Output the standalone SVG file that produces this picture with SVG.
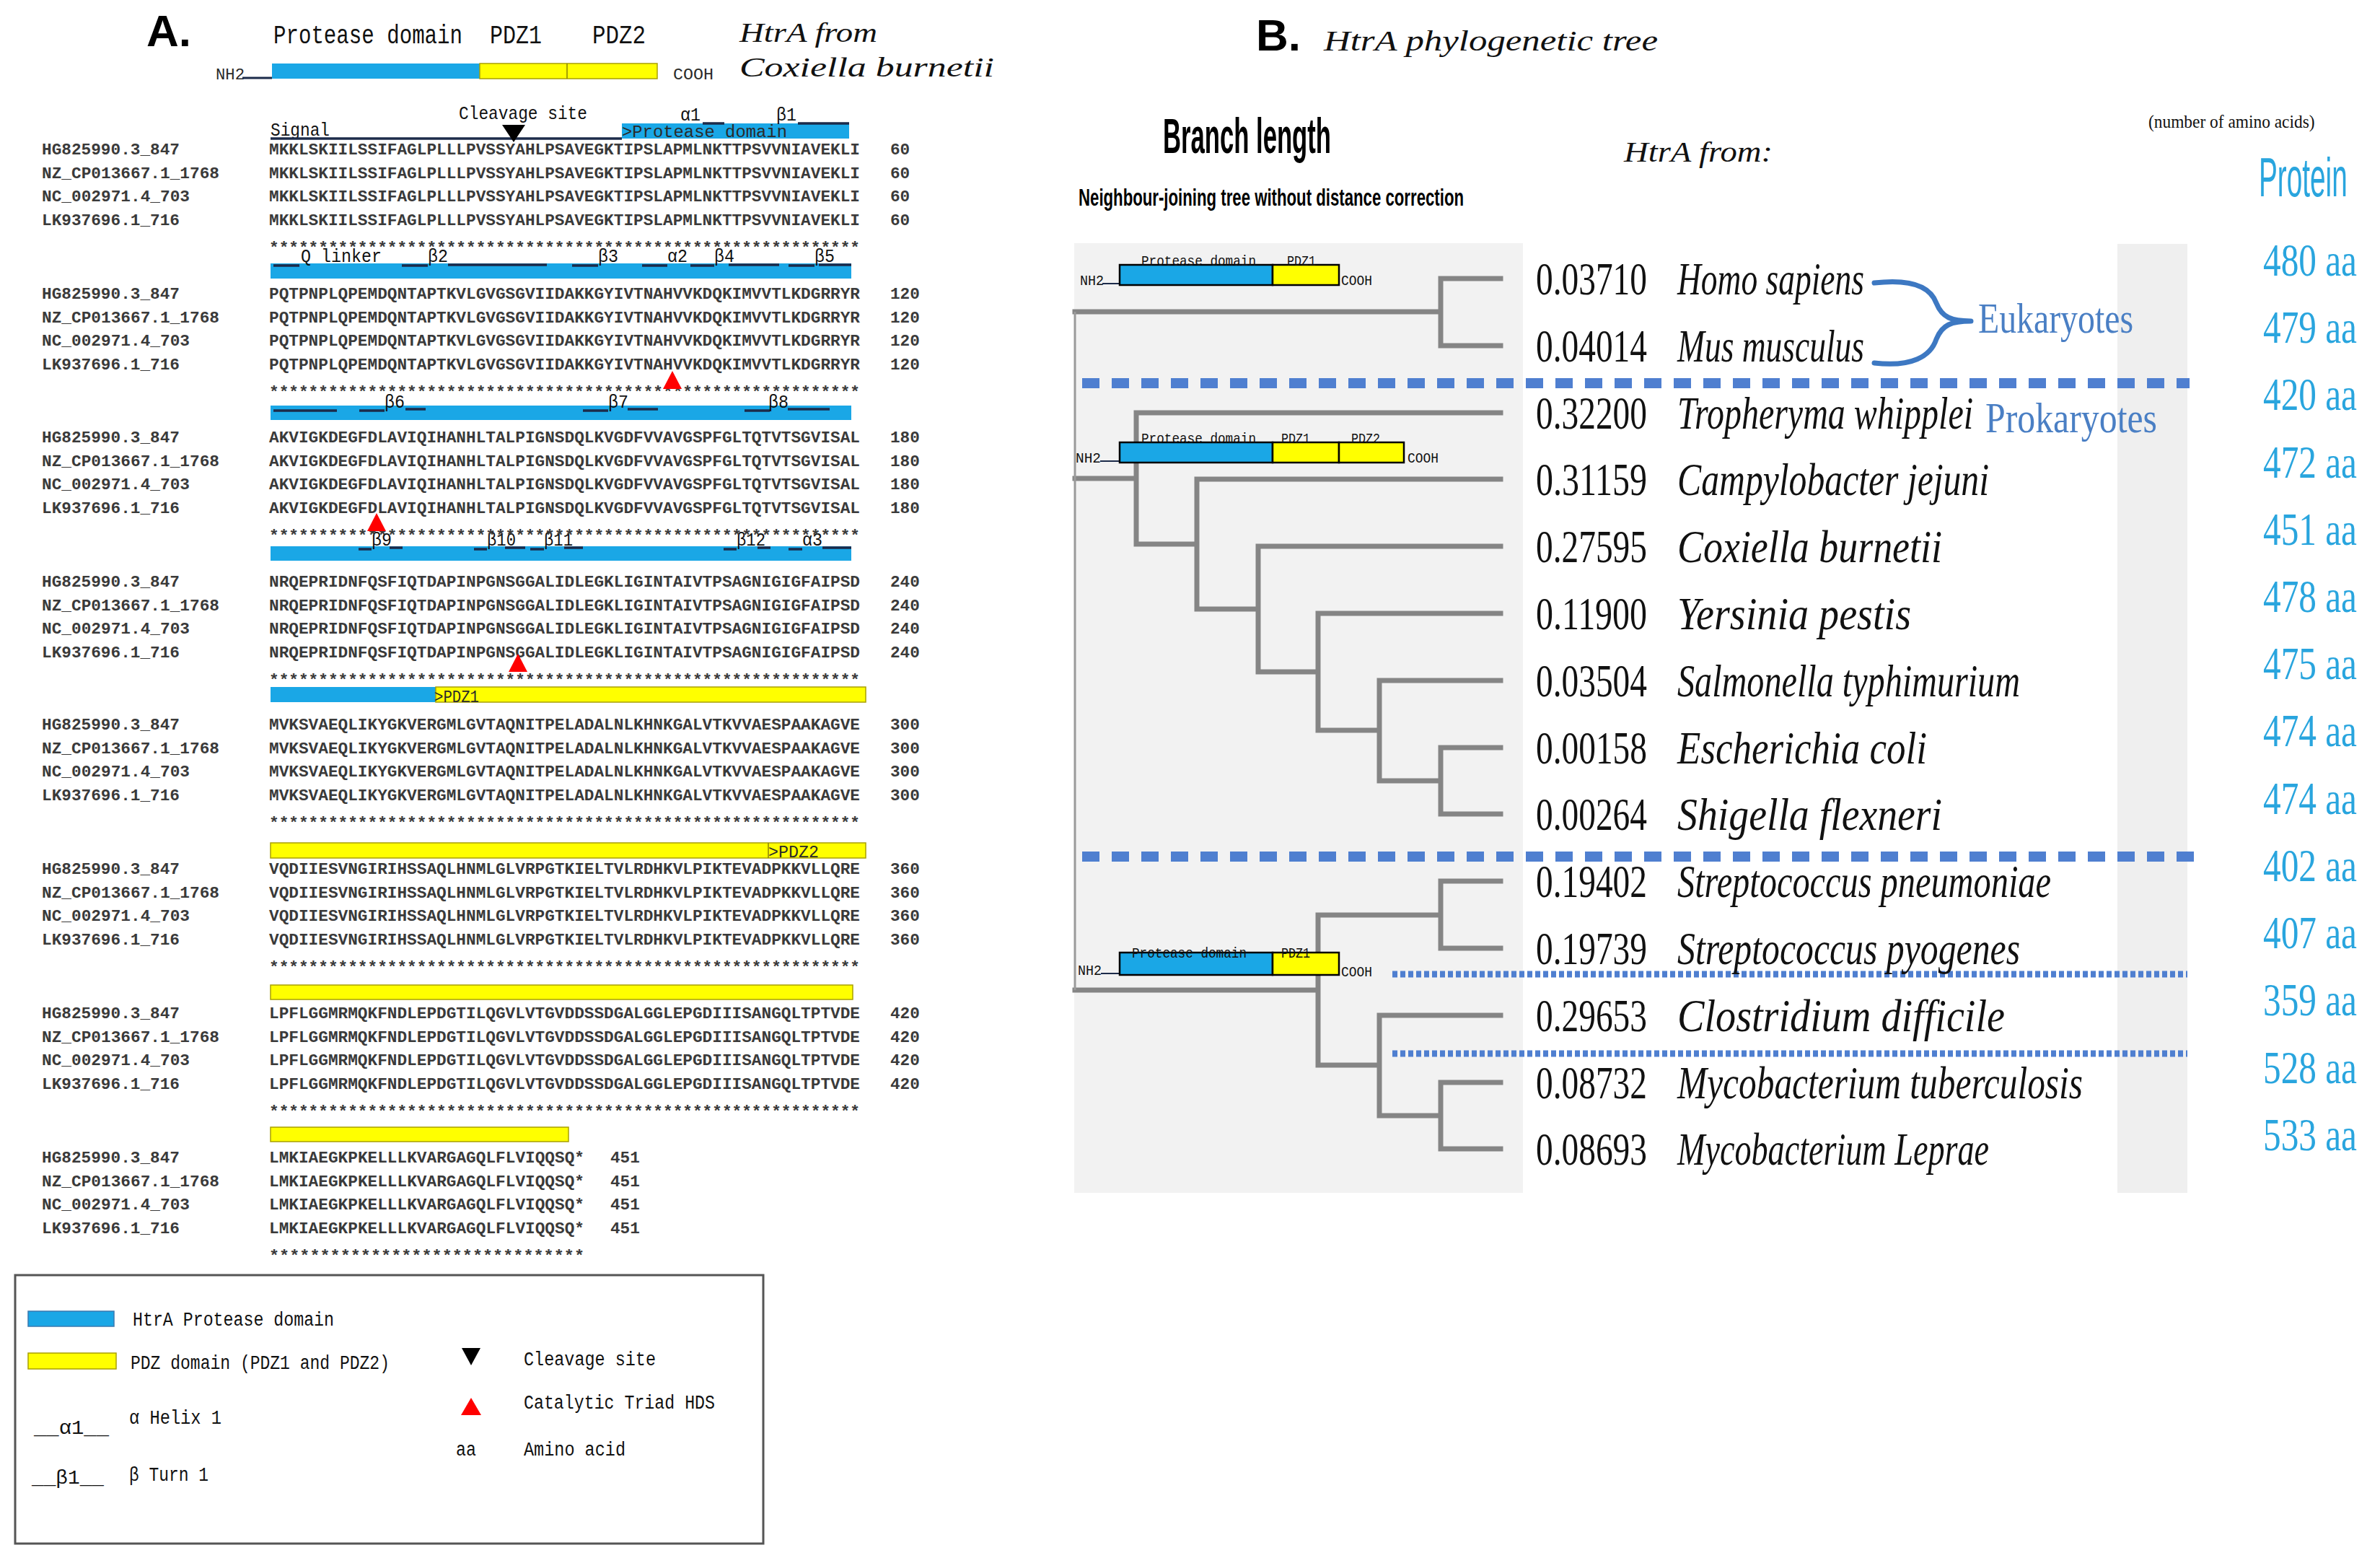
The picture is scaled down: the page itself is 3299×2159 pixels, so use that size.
<svg xmlns="http://www.w3.org/2000/svg" width="3299" height="2159" viewBox="0 0 3299 2159">
<style>
.mono{font-family:"Liberation Mono","DejaVu Sans Mono",monospace;fill:#2a2a2a}
.seq{font-size:22.7px;font-weight:bold;fill:#3a3a3a}
.ann{font-size:25px;fill:#111}
.top{font-size:36px;fill:#111}
.leg{font-size:27px;fill:#111}
.it{font-family:"Liberation Serif","DejaVu Serif",serif;font-style:italic;fill:#111}
.ser{font-family:"Liberation Serif","DejaVu Serif",serif;fill:#111}
.bold{font-family:"Liberation Sans",Arial,sans-serif;font-weight:bold;fill:#000}
.num{font-size:64px}
.sp{font-size:64px}
.prot{font-family:"Liberation Serif",serif;font-size:64px;fill:#29a5de}
.grp{font-family:"Liberation Serif",serif;font-size:60px;fill:#4a7fc4}
.mini{font-family:"Liberation Mono",monospace;font-size:21px;fill:#111}
.blue{fill:#1aa7e6}
.yel{fill:#ffff00}
.seg{stroke:#1c2b4a;stroke-width:3.5;fill:none}
.tree{stroke:#858585;stroke-width:7;fill:none;stroke-linecap:square}
.dash{stroke:#4f7fd0;stroke-width:14;stroke-dasharray:24 17;fill:none}
.dot{stroke:#4f7fd0;stroke-width:9;stroke-dasharray:7 4;fill:none}
</style>
<rect width="3299" height="2159" fill="#fff"/>

<!-- ===================== PANEL A ===================== -->
<g id="panelA-title">
<text class="bold" x="203" y="64" font-size="62">A.</text>
<text class="mono top" x="379" y="60" textLength="262" lengthAdjust="spacingAndGlyphs">Protease domain</text>
<text class="mono top" x="679" y="60" textLength="72" lengthAdjust="spacingAndGlyphs">PDZ1</text>
<text class="mono top" x="821" y="60" textLength="74" lengthAdjust="spacingAndGlyphs">PDZ2</text>
<text class="it" x="1025" y="58" font-size="38" textLength="191" lengthAdjust="spacingAndGlyphs">HtrA from</text>
<text class="it" x="1025" y="106" font-size="38" textLength="353" lengthAdjust="spacingAndGlyphs">Coxiella burnetii</text>
</g>
<g id="panelA-domain">
<text class="mono" x="299" y="110" font-size="22" textLength="40" lengthAdjust="spacingAndGlyphs">NH2</text>
<line x1="336" y1="108" x2="377" y2="108" stroke="#1c2b4a" stroke-width="3"/>
<rect class="blue" x="377" y="88" width="288" height="21"/>
<rect class="yel" x="665" y="88" width="246" height="21" stroke="#a9a000" stroke-width="1.5"/>
<line x1="786" y1="88" x2="786" y2="109" stroke="#8a8300" stroke-width="1.5"/>
<text class="mono" x="933" y="110" font-size="22" textLength="56" lengthAdjust="spacingAndGlyphs">COOH</text>
</g>

<g id="annot1">
<text class="mono ann" x="636" y="165" textLength="178" lengthAdjust="spacingAndGlyphs">Cleavage site</text>
<text class="mono ann" x="375" y="188" textLength="82" lengthAdjust="spacingAndGlyphs">Signal</text>
<line x1="375" y1="192" x2="862" y2="192" stroke="#1c2b4a" stroke-width="3.5"/>
<rect class="blue" x="862" y="171" width="315" height="21"/>
<text class="mono" x="862" y="190" font-size="23" fill="#1c2b4a" textLength="229" lengthAdjust="spacingAndGlyphs">&gt;Protease domain</text>
<text class="mono ann" x="943" y="167" textLength="28" lengthAdjust="spacingAndGlyphs">α1</text>
<line class="seg" x1="974" y1="171" x2="1004" y2="171"/>
<text class="mono ann" x="1076" y="167" textLength="28" lengthAdjust="spacingAndGlyphs">β1</text>
<line class="seg" x1="1106" y1="171" x2="1177" y2="171"/>
<polygon points="696,173 728,173 712,197" fill="#000"/>
</g>
<g id="annot2">
<rect class="blue" x="375" y="365" width="805" height="21"/>
<path class="seg" d="M379,368H415M557,368H593M621,367H758M793,368H829M890,368H925M957,368H990M1010,367H1080M1093,368H1129M1135,367H1180"/>
<text class="mono ann" x="417" y="363" textLength="112" lengthAdjust="spacingAndGlyphs">Q linker</text>
<text class="mono ann" x="593" y="363" textLength="28" lengthAdjust="spacingAndGlyphs">β2</text>
<text class="mono ann" x="829" y="363" textLength="28" lengthAdjust="spacingAndGlyphs">β3</text>
<text class="mono ann" x="925" y="363" textLength="28" lengthAdjust="spacingAndGlyphs">α2</text>
<text class="mono ann" x="990" y="363" textLength="28" lengthAdjust="spacingAndGlyphs">β4</text>
<text class="mono ann" x="1129" y="363" textLength="28" lengthAdjust="spacingAndGlyphs">β5</text>
</g>
<g id="annot3">
<rect class="blue" x="375" y="562" width="805" height="20"/>
<path class="seg" d="M379,569H467M498,569H533M562,567H590M808,569H843M870,567H912M1032,569H1067M1092,567H1150"/>
<text class="mono ann" x="533" y="565" textLength="28" lengthAdjust="spacingAndGlyphs">β6</text>
<text class="mono ann" x="843" y="565" textLength="28" lengthAdjust="spacingAndGlyphs">β7</text>
<text class="mono ann" x="1065" y="565" textLength="28" lengthAdjust="spacingAndGlyphs">β8</text>
</g>
<g id="annot4">
<rect class="blue" x="375" y="757" width="805" height="20"/>
<path class="seg" d="M497,761H515M540,759H558M657,761H675M700,759H728M735,761H754M782,759H808M1003,761H1021M1050,759H1068M1093,761H1112M1140,759H1180"/>
<text class="mono ann" x="515" y="756" textLength="28" lengthAdjust="spacingAndGlyphs">β9</text>
<text class="mono ann" x="675" y="756" textLength="40" lengthAdjust="spacingAndGlyphs">β10</text>
<text class="mono ann" x="754" y="756" textLength="40" lengthAdjust="spacingAndGlyphs">β11</text>
<text class="mono ann" x="1021" y="756" textLength="40" lengthAdjust="spacingAndGlyphs">β12</text>
<text class="mono ann" x="1112" y="756" textLength="28" lengthAdjust="spacingAndGlyphs">α3</text>
</g>
<g id="annot5">
<rect class="blue" x="375" y="952" width="229" height="21"/>
<rect class="yel" x="604" y="952" width="596" height="21" stroke="#a9a000" stroke-width="1.5"/>
<text class="mono" x="602" y="973" font-size="24" fill="#1c2b4a" textLength="62" lengthAdjust="spacingAndGlyphs">&gt;PDZ1</text>
</g>
<g id="annot6">
<rect class="yel" x="375" y="1168" width="825" height="21" stroke="#a9a000" stroke-width="1.5"/>
<line x1="1065" y1="1168" x2="1065" y2="1189" stroke="#8a8300" stroke-width="1.5"/>
<text class="mono" x="1065" y="1188" font-size="24" fill="#1c2b4a" textLength="70" lengthAdjust="spacingAndGlyphs">&gt;PDZ2</text>
</g>
<g id="annot7"><rect class="yel" x="375" y="1365" width="807" height="20" stroke="#a9a000" stroke-width="1.5"/></g>
<g id="annot8"><rect class="yel" x="375" y="1562" width="413" height="20" stroke="#a9a000" stroke-width="1.5"/></g>

<g id="block1" class="mono seq" transform="translate(0,206)">
<text x="58" y="8" textLength="191" lengthAdjust="spacingAndGlyphs">HG825990.3_847</text>
<text x="58" y="41" textLength="246" lengthAdjust="spacingAndGlyphs">NZ_CP013667.1_1768</text>
<text x="58" y="73" textLength="205" lengthAdjust="spacingAndGlyphs">NC_002971.4_703</text>
<text x="58" y="106" textLength="191" lengthAdjust="spacingAndGlyphs">LK937696.1_716</text>
<text x="373" y="8" textLength="819" lengthAdjust="spacingAndGlyphs">MKKLSKIILSSIFAGLPLLLPVSSYAHLPSAVEGKTIPSLAPMLNKTTPSVVNIAVEKLI</text>
<text x="373" y="41" textLength="819" lengthAdjust="spacingAndGlyphs">MKKLSKIILSSIFAGLPLLLPVSSYAHLPSAVEGKTIPSLAPMLNKTTPSVVNIAVEKLI</text>
<text x="373" y="73" textLength="819" lengthAdjust="spacingAndGlyphs">MKKLSKIILSSIFAGLPLLLPVSSYAHLPSAVEGKTIPSLAPMLNKTTPSVVNIAVEKLI</text>
<text x="373" y="106" textLength="819" lengthAdjust="spacingAndGlyphs">MKKLSKIILSSIFAGLPLLLPVSSYAHLPSAVEGKTIPSLAPMLNKTTPSVVNIAVEKLI</text>
<text x="1234" y="8">60</text><text x="1234" y="41">60</text><text x="1234" y="73">60</text><text x="1234" y="106">60</text>
<text x="373" y="144" textLength="819" lengthAdjust="spacingAndGlyphs">************************************************************</text>
</g>
<g id="block2" class="mono seq" transform="translate(0,406)">
<text x="58" y="8" textLength="191" lengthAdjust="spacingAndGlyphs">HG825990.3_847</text>
<text x="58" y="41" textLength="246" lengthAdjust="spacingAndGlyphs">NZ_CP013667.1_1768</text>
<text x="58" y="73" textLength="205" lengthAdjust="spacingAndGlyphs">NC_002971.4_703</text>
<text x="58" y="106" textLength="191" lengthAdjust="spacingAndGlyphs">LK937696.1_716</text>
<text x="373" y="8" textLength="819" lengthAdjust="spacingAndGlyphs">PQTPNPLQPEMDQNTAPTKVLGVGSGVIIDAKKGYIVTNAHVVKDQKIMVVTLKDGRRYR</text>
<text x="373" y="41" textLength="819" lengthAdjust="spacingAndGlyphs">PQTPNPLQPEMDQNTAPTKVLGVGSGVIIDAKKGYIVTNAHVVKDQKIMVVTLKDGRRYR</text>
<text x="373" y="73" textLength="819" lengthAdjust="spacingAndGlyphs">PQTPNPLQPEMDQNTAPTKVLGVGSGVIIDAKKGYIVTNAHVVKDQKIMVVTLKDGRRYR</text>
<text x="373" y="106" textLength="819" lengthAdjust="spacingAndGlyphs">PQTPNPLQPEMDQNTAPTKVLGVGSGVIIDAKKGYIVTNAHVVKDQKIMVVTLKDGRRYR</text>
<text x="1234" y="8">120</text><text x="1234" y="41">120</text><text x="1234" y="73">120</text><text x="1234" y="106">120</text>
<text x="373" y="144" textLength="819" lengthAdjust="spacingAndGlyphs">************************************************************</text>
</g>
<g id="block3" class="mono seq" transform="translate(0,605)">
<text x="58" y="8" textLength="191" lengthAdjust="spacingAndGlyphs">HG825990.3_847</text>
<text x="58" y="41" textLength="246" lengthAdjust="spacingAndGlyphs">NZ_CP013667.1_1768</text>
<text x="58" y="73" textLength="205" lengthAdjust="spacingAndGlyphs">NC_002971.4_703</text>
<text x="58" y="106" textLength="191" lengthAdjust="spacingAndGlyphs">LK937696.1_716</text>
<text x="373" y="8" textLength="819" lengthAdjust="spacingAndGlyphs">AKVIGKDEGFDLAVIQIHANHLTALPIGNSDQLKVGDFVVAVGSPFGLTQTVTSGVISAL</text>
<text x="373" y="41" textLength="819" lengthAdjust="spacingAndGlyphs">AKVIGKDEGFDLAVIQIHANHLTALPIGNSDQLKVGDFVVAVGSPFGLTQTVTSGVISAL</text>
<text x="373" y="73" textLength="819" lengthAdjust="spacingAndGlyphs">AKVIGKDEGFDLAVIQIHANHLTALPIGNSDQLKVGDFVVAVGSPFGLTQTVTSGVISAL</text>
<text x="373" y="106" textLength="819" lengthAdjust="spacingAndGlyphs">AKVIGKDEGFDLAVIQIHANHLTALPIGNSDQLKVGDFVVAVGSPFGLTQTVTSGVISAL</text>
<text x="1234" y="8">180</text><text x="1234" y="41">180</text><text x="1234" y="73">180</text><text x="1234" y="106">180</text>
<text x="373" y="144" textLength="819" lengthAdjust="spacingAndGlyphs">************************************************************</text>
</g>
<g id="block4" class="mono seq" transform="translate(0,805)">
<text x="58" y="8" textLength="191" lengthAdjust="spacingAndGlyphs">HG825990.3_847</text>
<text x="58" y="41" textLength="246" lengthAdjust="spacingAndGlyphs">NZ_CP013667.1_1768</text>
<text x="58" y="73" textLength="205" lengthAdjust="spacingAndGlyphs">NC_002971.4_703</text>
<text x="58" y="106" textLength="191" lengthAdjust="spacingAndGlyphs">LK937696.1_716</text>
<text x="373" y="8" textLength="819" lengthAdjust="spacingAndGlyphs">NRQEPRIDNFQSFIQTDAPINPGNSGGALIDLEGKLIGINTAIVTPSAGNIGIGFAIPSD</text>
<text x="373" y="41" textLength="819" lengthAdjust="spacingAndGlyphs">NRQEPRIDNFQSFIQTDAPINPGNSGGALIDLEGKLIGINTAIVTPSAGNIGIGFAIPSD</text>
<text x="373" y="73" textLength="819" lengthAdjust="spacingAndGlyphs">NRQEPRIDNFQSFIQTDAPINPGNSGGALIDLEGKLIGINTAIVTPSAGNIGIGFAIPSD</text>
<text x="373" y="106" textLength="819" lengthAdjust="spacingAndGlyphs">NRQEPRIDNFQSFIQTDAPINPGNSGGALIDLEGKLIGINTAIVTPSAGNIGIGFAIPSD</text>
<text x="1234" y="8">240</text><text x="1234" y="41">240</text><text x="1234" y="73">240</text><text x="1234" y="106">240</text>
<text x="373" y="144" textLength="819" lengthAdjust="spacingAndGlyphs">************************************************************</text>
</g>
<g id="block5" class="mono seq" transform="translate(0,1003)">
<text x="58" y="8" textLength="191" lengthAdjust="spacingAndGlyphs">HG825990.3_847</text>
<text x="58" y="41" textLength="246" lengthAdjust="spacingAndGlyphs">NZ_CP013667.1_1768</text>
<text x="58" y="73" textLength="205" lengthAdjust="spacingAndGlyphs">NC_002971.4_703</text>
<text x="58" y="106" textLength="191" lengthAdjust="spacingAndGlyphs">LK937696.1_716</text>
<text x="373" y="8" textLength="819" lengthAdjust="spacingAndGlyphs">MVKSVAEQLIKYGKVERGMLGVTAQNITPELADALNLKHNKGALVTKVVAESPAAKAGVE</text>
<text x="373" y="41" textLength="819" lengthAdjust="spacingAndGlyphs">MVKSVAEQLIKYGKVERGMLGVTAQNITPELADALNLKHNKGALVTKVVAESPAAKAGVE</text>
<text x="373" y="73" textLength="819" lengthAdjust="spacingAndGlyphs">MVKSVAEQLIKYGKVERGMLGVTAQNITPELADALNLKHNKGALVTKVVAESPAAKAGVE</text>
<text x="373" y="106" textLength="819" lengthAdjust="spacingAndGlyphs">MVKSVAEQLIKYGKVERGMLGVTAQNITPELADALNLKHNKGALVTKVVAESPAAKAGVE</text>
<text x="1234" y="8">300</text><text x="1234" y="41">300</text><text x="1234" y="73">300</text><text x="1234" y="106">300</text>
<text x="373" y="144" textLength="819" lengthAdjust="spacingAndGlyphs">************************************************************</text>
</g>
<g id="block6" class="mono seq" transform="translate(0,1203)">
<text x="58" y="8" textLength="191" lengthAdjust="spacingAndGlyphs">HG825990.3_847</text>
<text x="58" y="41" textLength="246" lengthAdjust="spacingAndGlyphs">NZ_CP013667.1_1768</text>
<text x="58" y="73" textLength="205" lengthAdjust="spacingAndGlyphs">NC_002971.4_703</text>
<text x="58" y="106" textLength="191" lengthAdjust="spacingAndGlyphs">LK937696.1_716</text>
<text x="373" y="8" textLength="819" lengthAdjust="spacingAndGlyphs">VQDIIESVNGIRIHSSAQLHNMLGLVRPGTKIELTVLRDHKVLPIKTEVADPKKVLLQRE</text>
<text x="373" y="41" textLength="819" lengthAdjust="spacingAndGlyphs">VQDIIESVNGIRIHSSAQLHNMLGLVRPGTKIELTVLRDHKVLPIKTEVADPKKVLLQRE</text>
<text x="373" y="73" textLength="819" lengthAdjust="spacingAndGlyphs">VQDIIESVNGIRIHSSAQLHNMLGLVRPGTKIELTVLRDHKVLPIKTEVADPKKVLLQRE</text>
<text x="373" y="106" textLength="819" lengthAdjust="spacingAndGlyphs">VQDIIESVNGIRIHSSAQLHNMLGLVRPGTKIELTVLRDHKVLPIKTEVADPKKVLLQRE</text>
<text x="1234" y="8">360</text><text x="1234" y="41">360</text><text x="1234" y="73">360</text><text x="1234" y="106">360</text>
<text x="373" y="144" textLength="819" lengthAdjust="spacingAndGlyphs">************************************************************</text>
</g>
<g id="block7" class="mono seq" transform="translate(0,1403)">
<text x="58" y="8" textLength="191" lengthAdjust="spacingAndGlyphs">HG825990.3_847</text>
<text x="58" y="41" textLength="246" lengthAdjust="spacingAndGlyphs">NZ_CP013667.1_1768</text>
<text x="58" y="73" textLength="205" lengthAdjust="spacingAndGlyphs">NC_002971.4_703</text>
<text x="58" y="106" textLength="191" lengthAdjust="spacingAndGlyphs">LK937696.1_716</text>
<text x="373" y="8" textLength="819" lengthAdjust="spacingAndGlyphs">LPFLGGMRMQKFNDLEPDGTILQGVLVTGVDDSSDGALGGLEPGDIIISANGQLTPTVDE</text>
<text x="373" y="41" textLength="819" lengthAdjust="spacingAndGlyphs">LPFLGGMRMQKFNDLEPDGTILQGVLVTGVDDSSDGALGGLEPGDIIISANGQLTPTVDE</text>
<text x="373" y="73" textLength="819" lengthAdjust="spacingAndGlyphs">LPFLGGMRMQKFNDLEPDGTILQGVLVTGVDDSSDGALGGLEPGDIIISANGQLTPTVDE</text>
<text x="373" y="106" textLength="819" lengthAdjust="spacingAndGlyphs">LPFLGGMRMQKFNDLEPDGTILQGVLVTGVDDSSDGALGGLEPGDIIISANGQLTPTVDE</text>
<text x="1234" y="8">420</text><text x="1234" y="41">420</text><text x="1234" y="73">420</text><text x="1234" y="106">420</text>
<text x="373" y="144" textLength="819" lengthAdjust="spacingAndGlyphs">************************************************************</text>
</g>
<g id="block8" class="mono seq" transform="translate(0,1603)">
<text x="58" y="8" textLength="191" lengthAdjust="spacingAndGlyphs">HG825990.3_847</text>
<text x="58" y="41" textLength="246" lengthAdjust="spacingAndGlyphs">NZ_CP013667.1_1768</text>
<text x="58" y="73" textLength="205" lengthAdjust="spacingAndGlyphs">NC_002971.4_703</text>
<text x="58" y="106" textLength="191" lengthAdjust="spacingAndGlyphs">LK937696.1_716</text>
<text x="373" y="8" textLength="437" lengthAdjust="spacingAndGlyphs">LMKIAEGKPKELLLKVARGAGQLFLVIQQSQ*</text>
<text x="373" y="41" textLength="437" lengthAdjust="spacingAndGlyphs">LMKIAEGKPKELLLKVARGAGQLFLVIQQSQ*</text>
<text x="373" y="73" textLength="437" lengthAdjust="spacingAndGlyphs">LMKIAEGKPKELLLKVARGAGQLFLVIQQSQ*</text>
<text x="373" y="106" textLength="437" lengthAdjust="spacingAndGlyphs">LMKIAEGKPKELLLKVARGAGQLFLVIQQSQ*</text>
<text x="846" y="8">451</text><text x="846" y="41">451</text><text x="846" y="73">451</text><text x="846" y="106">451</text>
<text x="373" y="144" textLength="437" lengthAdjust="spacingAndGlyphs">*******************************</text>
</g>

<g id="catalytic-triad" fill="#ff0000">
<polygon points="932,514 945,539 919,539"/>
<polygon points="522,711 535,736 509,736"/>
<polygon points="718,906 731,931 705,931"/>
</g>

<g id="legend">
<rect x="21" y="1767" width="1037" height="372" fill="#fff" stroke="#555" stroke-width="3"/>
<rect class="blue" x="39" y="1817" width="119" height="21" stroke="#3a7ab0" stroke-width="1.5"/>
<text class="mono leg" x="184" y="1837" textLength="279" lengthAdjust="spacingAndGlyphs">HtrA Protease domain</text>
<rect class="yel" x="39" y="1875" width="122" height="22" stroke="#a9a000" stroke-width="1.5"/>
<text class="mono leg" x="181" y="1897" textLength="359" lengthAdjust="spacingAndGlyphs">PDZ domain (PDZ1 and PDZ2)</text>
<text class="mono leg" x="47" y="1987" textLength="104" lengthAdjust="spacingAndGlyphs">__α1__</text>
<text class="mono leg" x="179" y="1973" textLength="128" lengthAdjust="spacingAndGlyphs">α Helix 1</text>
<text class="mono leg" x="44" y="2056" textLength="100" lengthAdjust="spacingAndGlyphs">__β1__</text>
<text class="mono leg" x="179" y="2052" textLength="110" lengthAdjust="spacingAndGlyphs">β Turn 1</text>
<polygon points="640,1868 666,1868 653,1892" fill="#000"/>
<text class="mono leg" x="726" y="1892" textLength="183" lengthAdjust="spacingAndGlyphs">Cleavage site</text>
<polygon points="653,1937 667,1961 639,1961" fill="#ff0000"/>
<text class="mono leg" x="726" y="1952" textLength="265" lengthAdjust="spacingAndGlyphs">Catalytic Triad HDS</text>
<text class="mono leg" x="632" y="2017" textLength="28" lengthAdjust="spacingAndGlyphs">aa</text>
<text class="mono leg" x="726" y="2017" textLength="141" lengthAdjust="spacingAndGlyphs">Amino acid</text>
</g>

<!-- ===================== PANEL B ===================== -->
<g id="panelB-title">
<text class="bold" x="1741" y="70" font-size="62">B.</text>
<text class="it" x="1835" y="70" font-size="40" textLength="463" lengthAdjust="spacingAndGlyphs">HtrA phylogenetic tree</text>
<text class="bold" x="1612" y="212" font-size="68" textLength="233" lengthAdjust="spacingAndGlyphs">Branch length</text>
<text class="bold" x="1495" y="285" font-size="33" textLength="534" lengthAdjust="spacingAndGlyphs">Neighbour-joining tree without distance correction</text>
<text class="it" x="2251" y="224" font-size="40" textLength="206" lengthAdjust="spacingAndGlyphs">HtrA from:</text>
<text class="ser" transform="translate(2978,177) scale(0.9,1)" font-size="26">(number of amino acids)</text>
<text transform="translate(3131,272) scale(0.51,1)" font-family="Liberation Sans,Arial,sans-serif" font-size="76" fill="#29a5de">Protein</text>
</g>

<rect x="1489" y="337" width="622" height="1316" fill="#f2f2f2"/>
<rect x="2935" y="338" width="97" height="1315" fill="#efefef"/>

<g id="connectors">
<path class="tree" d="M1490,432H1997M1997,386V479M1997,386H2080M1997,479H2080"/>
<path class="tree" d="M1490,663H1575M1575,572V754M1575,572H2080M1575,754H1659M1659,664V844M1659,664H2080M1659,844H1744M1744,757V931M1744,757H2080M1744,931H1827M1827,850V1012M1827,850H2080M1827,1012H1912M1912,943V1082M1912,943H2080M1912,1082H1997M1997,1036V1128M1997,1036H2080M1997,1128H2080"/>
<path class="tree" d="M1490,1372H1827M1827,1268V1476M1827,1268H1997M1997,1221V1314M1997,1221H2080M1997,1314H2080M1827,1476H1912M1912,1407V1546M1912,1407H2080M1912,1546H1997M1997,1500V1592M1997,1500H2080M1997,1592H2080"/>
<path d="M1490,432V1372" stroke="#9a9a9a" stroke-width="3" fill="none"/>
</g>

<g id="domain-euk">
<text class="mini" x="1497" y="395" textLength="33" lengthAdjust="spacingAndGlyphs">NH2</text>
<line x1="1528" y1="393" x2="1552" y2="393" stroke="#1c2b4a" stroke-width="2"/>
<rect class="blue" x="1552" y="367" width="212" height="28" stroke="#000" stroke-width="2.5"/>
<rect class="yel" x="1764" y="367" width="92" height="28" stroke="#000" stroke-width="2.5"/>
<text class="mini" x="1859" y="395" textLength="43" lengthAdjust="spacingAndGlyphs">COOH</text>
<text class="mini" x="1582" y="368" textLength="159" lengthAdjust="spacingAndGlyphs">Protease domain</text>
<text class="mini" x="1784" y="368" textLength="40" lengthAdjust="spacingAndGlyphs">PDZ1</text>
</g>
<g id="domain-prok">
<text class="mini" x="1491" y="641" textLength="35" lengthAdjust="spacingAndGlyphs">NH2</text>
<line x1="1525" y1="639" x2="1552" y2="639" stroke="#1c2b4a" stroke-width="2"/>
<rect class="blue" x="1552" y="613" width="212" height="28" stroke="#000" stroke-width="2.5"/>
<rect class="yel" x="1764" y="613" width="92" height="28" stroke="#000" stroke-width="2.5"/>
<rect class="yel" x="1856" y="613" width="90" height="28" stroke="#000" stroke-width="2.5"/>
<text class="mini" x="1951" y="641" textLength="43" lengthAdjust="spacingAndGlyphs">COOH</text>
<text class="mini" x="1582" y="614" textLength="159" lengthAdjust="spacingAndGlyphs">Protease domain</text>
<text class="mini" x="1776" y="614" textLength="40" lengthAdjust="spacingAndGlyphs">PDZ1</text>
<text class="mini" x="1873" y="614" textLength="40" lengthAdjust="spacingAndGlyphs">PDZ2</text>
</g>
<g id="domain-gram">
<text class="mini" x="1494" y="1351" textLength="33" lengthAdjust="spacingAndGlyphs">NH2</text>
<line x1="1526" y1="1349" x2="1552" y2="1349" stroke="#1c2b4a" stroke-width="2"/>
<rect class="blue" x="1552" y="1320" width="212" height="31" stroke="#000" stroke-width="2.5"/>
<rect class="yel" x="1764" y="1320" width="92" height="31" stroke="#000" stroke-width="2.5"/>
<text class="mini" x="1859" y="1353" textLength="43" lengthAdjust="spacingAndGlyphs">COOH</text>
<text class="mini" x="1569" y="1327" textLength="159" lengthAdjust="spacingAndGlyphs">Protease domain</text>
<text class="mini" x="1776" y="1327" textLength="40" lengthAdjust="spacingAndGlyphs">PDZ1</text>
</g>

<g id="separators">
<line class="dash" x1="1500" y1="531" x2="3035" y2="531"/>
<line class="dash" x1="1500" y1="1187" x2="3045" y2="1187"/>
<line class="dot" x1="1930" y1="1350" x2="3032" y2="1350"/>
<line class="dot" x1="1930" y1="1460" x2="3032" y2="1460"/>
</g>

<g id="leaf-homo"><text class="ser num" x="2129" y="408" textLength="154" lengthAdjust="spacingAndGlyphs">0.03710</text><text class="it sp" x="2325" y="408" textLength="259" lengthAdjust="spacingAndGlyphs">Homo sapiens</text><text class="prot" transform="translate(3137,382) scale(0.77,1)">480 aa</text></g>
<g id="leaf-mus"><text class="ser num" x="2129" y="501" textLength="154" lengthAdjust="spacingAndGlyphs">0.04014</text><text class="it sp" x="2325" y="501" textLength="259" lengthAdjust="spacingAndGlyphs">Mus musculus</text><text class="prot" transform="translate(3137,475) scale(0.77,1)">479 aa</text></g>
<g id="leaf-trop"><text class="ser num" x="2129" y="594" textLength="154" lengthAdjust="spacingAndGlyphs">0.32200</text><text class="it sp" x="2325" y="594" textLength="410" lengthAdjust="spacingAndGlyphs">Tropheryma whipplei</text><text class="prot" transform="translate(3137,568) scale(0.77,1)">420 aa</text></g>
<g id="leaf-camp"><text class="ser num" x="2129" y="686" textLength="154" lengthAdjust="spacingAndGlyphs">0.31159</text><text class="it sp" x="2325" y="686" textLength="432" lengthAdjust="spacingAndGlyphs">Campylobacter jejuni</text><text class="prot" transform="translate(3137,662) scale(0.77,1)">472 aa</text></g>
<g id="leaf-cox"><text class="ser num" x="2129" y="779" textLength="154" lengthAdjust="spacingAndGlyphs">0.27595</text><text class="it sp" x="2325" y="779" textLength="367" lengthAdjust="spacingAndGlyphs">Coxiella burnetii</text><text class="prot" transform="translate(3137,755) scale(0.77,1)">451 aa</text></g>
<g id="leaf-yers"><text class="ser num" x="2129" y="872" textLength="154" lengthAdjust="spacingAndGlyphs">0.11900</text><text class="it sp" x="2325" y="872" textLength="324" lengthAdjust="spacingAndGlyphs">Yersinia pestis</text><text class="prot" transform="translate(3137,848) scale(0.77,1)">478 aa</text></g>
<g id="leaf-salm"><text class="ser num" x="2129" y="965" textLength="154" lengthAdjust="spacingAndGlyphs">0.03504</text><text class="it sp" x="2325" y="965" textLength="475" lengthAdjust="spacingAndGlyphs">Salmonella typhimurium</text><text class="prot" transform="translate(3137,941) scale(0.77,1)">475 aa</text></g>
<g id="leaf-ecoli"><text class="ser num" x="2129" y="1058" textLength="154" lengthAdjust="spacingAndGlyphs">0.00158</text><text class="it sp" x="2325" y="1058" textLength="346" lengthAdjust="spacingAndGlyphs">Escherichia coli</text><text class="prot" transform="translate(3137,1034) scale(0.77,1)">474 aa</text></g>
<g id="leaf-shig"><text class="ser num" x="2129" y="1150" textLength="154" lengthAdjust="spacingAndGlyphs">0.00264</text><text class="it sp" x="2325" y="1150" textLength="367" lengthAdjust="spacingAndGlyphs">Shigella flexneri</text><text class="prot" transform="translate(3137,1128) scale(0.77,1)">474 aa</text></g>
<g id="leaf-spn"><text class="ser num" x="2129" y="1243" textLength="154" lengthAdjust="spacingAndGlyphs">0.19402</text><text class="it sp" x="2325" y="1243" textLength="518" lengthAdjust="spacingAndGlyphs">Streptococcus pneumoniae</text><text class="prot" transform="translate(3137,1221) scale(0.77,1)">402 aa</text></g>
<g id="leaf-spy"><text class="ser num" x="2129" y="1336" textLength="154" lengthAdjust="spacingAndGlyphs">0.19739</text><text class="it sp" x="2325" y="1336" textLength="475" lengthAdjust="spacingAndGlyphs">Streptococcus pyogenes</text><text class="prot" transform="translate(3137,1314) scale(0.77,1)">407 aa</text></g>
<g id="leaf-clos"><text class="ser num" x="2129" y="1429" textLength="154" lengthAdjust="spacingAndGlyphs">0.29653</text><text class="it sp" x="2325" y="1429" textLength="454" lengthAdjust="spacingAndGlyphs">Clostridium difficile</text><text class="prot" transform="translate(3137,1407) scale(0.77,1)">359 aa</text></g>
<g id="leaf-mtb"><text class="ser num" x="2129" y="1522" textLength="154" lengthAdjust="spacingAndGlyphs">0.08732</text><text class="it sp" x="2325" y="1522" textLength="562" lengthAdjust="spacingAndGlyphs">Mycobacterium tuberculosis</text><text class="prot" transform="translate(3137,1501) scale(0.77,1)">528 aa</text></g>
<g id="leaf-mlep"><text class="ser num" x="2129" y="1614" textLength="154" lengthAdjust="spacingAndGlyphs">0.08693</text><text class="it sp" x="2325" y="1614" textLength="432" lengthAdjust="spacingAndGlyphs">Mycobacterium Leprae</text><text class="prot" transform="translate(3137,1594) scale(0.77,1)">533 aa</text></g>

<g id="groups">
<path d="M2598,392 C2650,386 2676,398 2684,420 C2692,440 2705,445 2732,445 M2598,503 C2650,509 2676,494 2684,470 C2692,450 2705,445 2732,445" stroke="#3d78c2" stroke-width="7" fill="none" stroke-linecap="round"/>
<text class="grp" x="2742" y="461" textLength="215" lengthAdjust="spacingAndGlyphs">Eukaryotes</text>
<text class="grp" x="2752" y="599" textLength="238" lengthAdjust="spacingAndGlyphs">Prokaryotes</text>
</g>
</svg>
